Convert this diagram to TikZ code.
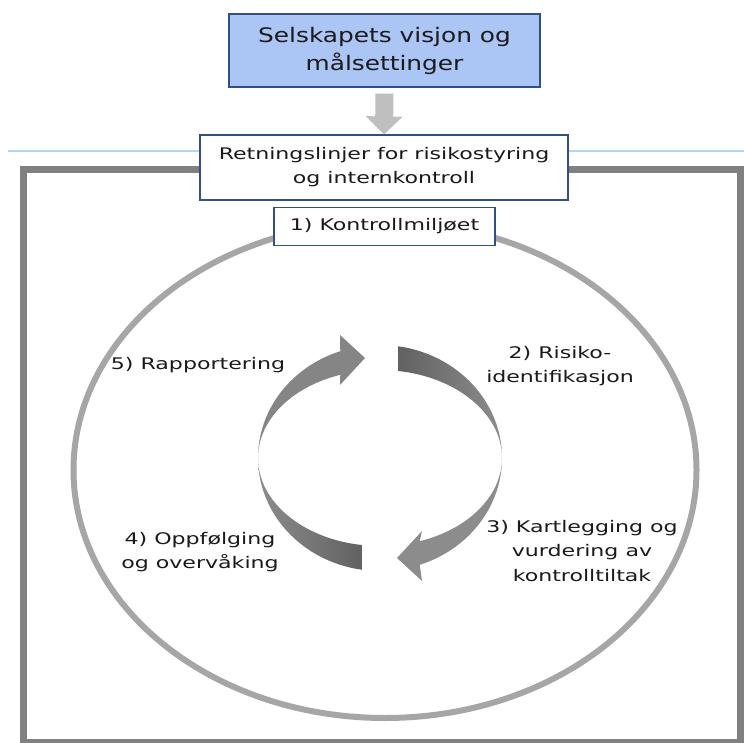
\documentclass[tikz,border=0pt]{standalone}
\usepackage{fontspec}
\setmainfont[FakeStretch=1.38]{DejaVu Sans}
\newfontfamily\titlefont[FakeStretch=1.24]{DejaVu Sans}
\usetikzlibrary{arrows.meta, positioning, calc}
\definecolor{goalfill}{HTML}{ABC5F5}
\definecolor{boxline}{HTML}{2F4F86}
\definecolor{ruleblue}{HTML}{B7D6EC}
\definecolor{framegray}{HTML}{808080}
\definecolor{ringgray}{HTML}{A6A6A6}
\definecolor{arrowgray}{HTML}{BFBFBF}
\definecolor{ribbondark}{HTML}{5A5A5A}
\definecolor{ribbonlight}{HTML}{8C8C8C}
\definecolor{inktext}{HTML}{1A1A1A}

\begin{document}
\begin{tikzpicture}[
    x=1pt, y=1pt,
    goalbox/.style={draw=boxline, line width=1.2pt, fill=goalfill, minimum width=311pt, minimum height=73pt, align=center, text=inktext, font=\titlefont\fontsize{20}{28}\selectfont},
    policybox/.style={draw=boxline, line width=1.2pt, fill=white, minimum width=368pt, minimum height=65pt, align=center, text=inktext, font=\fontsize{16}{24}\selectfont},
    envbox/.style={draw=boxline, line width=1.2pt, fill=white, minimum width=221pt, minimum height=38pt, text=inktext, font=\fontsize{16}{24}\selectfont},
    stage/.style={align=center, text=inktext, font=\fontsize{16}{24.5}\selectfont},
    ribbon/.style={draw=none}
]
   \useasboundingbox (0,0) rectangle (744,-743);

   % Background
   \draw[ruleblue, line width=1.2pt] (8,-151) -- (744,-151);
   \draw[framegray, line width=7pt] (23.5,-169.5) rectangle (740.5,-742.5);
   \draw[ringgray, line width=6pt] (385,-470) ellipse [x radius=311.5, y radius=248];

   % Boxes
   \node[goalbox] (vision) at (384.5,-50.5) {Selskapets visjon og\\målsettinger};
   \node[policybox] (guide) at (384,-167.5) {Retningslinjer for risikostyring\\og internkontroll};
   \node[envbox] (env) at (384.5,-226.5) {1) Kontrollmiljøet};

   \draw[arrowgray, line width=18pt, -{Triangle[width=36pt, length=18pt]}]
      ([yshift=-6pt]vision.south) -- (guide.north);

   % Cycle
   \coordinate (hub) at (380,-458);

   \fill[ribbon, ribbonlight!95!black] (hub) ++(180:122 and 113)
      arc[start angle=180, end angle=109, x radius=122, y radius=113]
      -- ($(hub)+(-40,123)$) -- ($(hub)+(-15,100)$) -- ($(hub)+(-40,73)$)
      -- ($(hub)+(109:122 and 88)$)
      arc[start angle=109, end angle=180, x radius=122, y radius=88] -- cycle;

   \shade[ribbon, left color=ribbondark, right color=ribbonlight] (hub) ++(81.5:122 and 113)
      arc[start angle=81.5, end angle=0, x radius=122, y radius=113]
      arc[start angle=0, end angle=81.5, x radius=122, y radius=88] -- cycle;

   \fill[ribbon, ribbonlight] (hub) ++(0:122 and 113)
      arc[start angle=0, end angle=-71, x radius=122, y radius=113]
      -- ($(hub)+(42,-123)$) -- ($(hub)+(17,-100)$) -- ($(hub)+(42,-73)$)
      -- ($(hub)+(-71:122 and 88)$)
      arc[start angle=-71, end angle=0, x radius=122, y radius=88] -- cycle;

   \shade[ribbon, left color=ribbonlight, right color=ribbondark] (hub) ++(261.5:122 and 113)
      arc[start angle=261.5, end angle=180, x radius=122, y radius=113]
      arc[start angle=180, end angle=261.5, x radius=122, y radius=88] -- cycle;

   % Stages
   \node[stage] (report) at (198,-365) {5) Rapportering};
   \node[stage] (risk) at (560,-366) {2) Risiko-\\identifikasjon};
   \node[stage] (assess) at (582,-551) {3) Kartlegging og\\vurdering av\\kontrolltiltak};
   \node[stage] (follow) at (200,-552) {4) Oppfølging\\og overvåking};
\end{tikzpicture}
\end{document}
